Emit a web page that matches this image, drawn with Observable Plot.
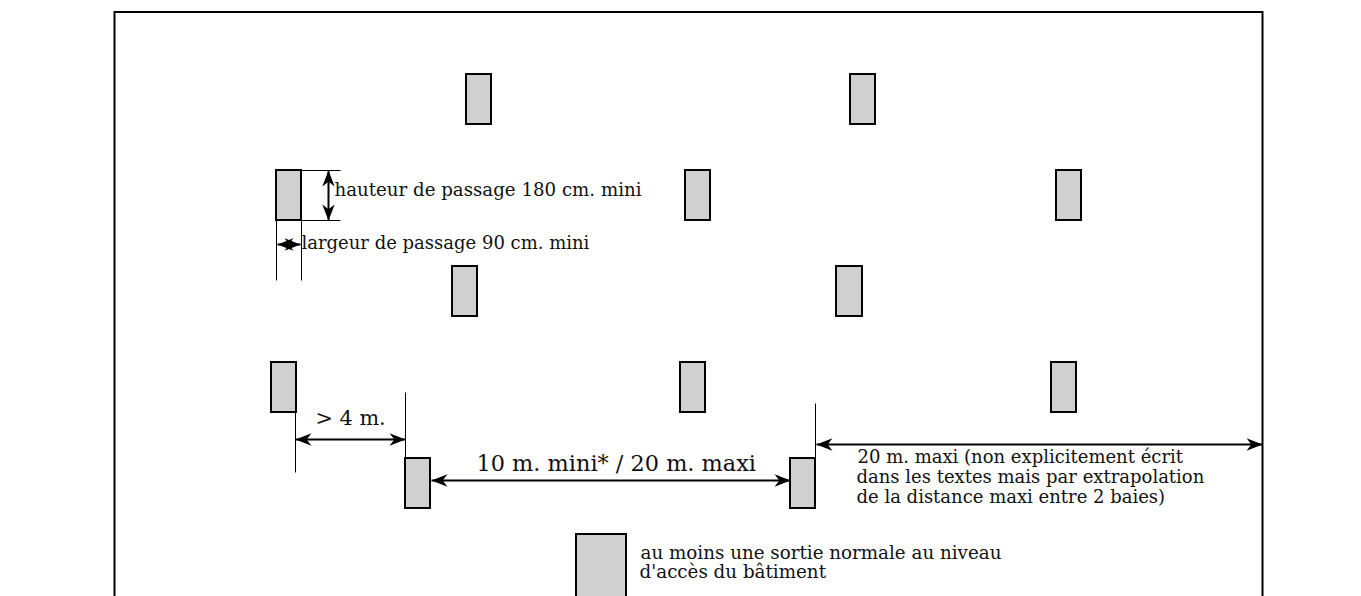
<!DOCTYPE html>
<html><head><meta charset="utf-8">
<script src="https://cdn.jsdelivr.net/npm/d3@7"></script>
<script src="https://cdn.jsdelivr.net/npm/@observablehq/plot@0.6"></script>
<style>html,body{margin:0;padding:0;background:#fff;overflow:hidden}svg{display:block;overflow:hidden}</style>
</head><body><div id="c"></div>
<script>
// door rectangles [left, top, right, bottom]
const doors = [
  [466,74,491,124],[850,74,875,124],
  [276,170,301,220],[685,170,710,220],[1056,170,1081,220],
  [452,266,477,316],[836,266,862,316],
  [271,362,296,412],[680,362,705,412],[1051,362,1076,412],
  [405,458,430,508],[790,458,815,508]
];
const legendDoor = [[576,534,626,610]];
const frame = [[114.5,12,1262.5,620]];
// thin dimension lines [x1,y1,x2,y2]
const guides = [
  [301,170,340,170],[301,220,340,220],
  [276,220,276,280],[301,220,301,280],
  [295,412,295,472],[405,392,405,458],[815,403,815,458]
];
// double arrows [x1,y1,x2,y2]
const arrows = [
  [328,170,328,220],[277,244,300,244],
  [295,439,405,439],[431,480,790,480],[816,444,1262,444]
];
const labels = [
  ["hauteur de passage 180 cm. mini",334,190,18.2],
  ["largeur de passage 90 cm. mini",301,243,18],
  ["> 4 m.",315,418,20.8],
  ["10 m. mini* / 20 m. maxi",476,463,22.4],
  ["20 m. maxi (non explicitement écrit",857,457,18],
  ["dans les textes mais par extrapolation",856,477,18],
  ["de la distance maxi entre 2 baies)",856,497,18],
  ["au moins une sortie normale au niveau",640,553,18.3],
  ["d'accès du bâtiment",639,572,18.3]
];
const stealth = {draw(ctx, size){
  const s = Math.sqrt(size);
  ctx.moveTo(0,0); ctx.lineTo(-6.2,s); ctx.lineTo(0,s*0.7); ctx.lineTo(6.2,s);
  ctx.closePath();
}};
const heads = arrows.flatMap(([a,b,c,d])=>{
  const ang = Math.atan2(d-b,c-a)*180/Math.PI;
  return [{x:a,y:b,r:ang-90},{x:c,y:d,r:ang+90}];
});
const plot = Plot.plot({
  width:1361,height:596,margin:0,
  x:{domain:[0,1361],range:[0,1361],axis:null},
  y:{domain:[0,596],range:[0,596],axis:null},
  marks:[
    Plot.rect(frame,{x1:d=>d[0],y1:d=>d[1],x2:d=>d[2],y2:d=>d[3],fill:"none",stroke:"#000",strokeWidth:2}),
    Plot.link(guides,{x1:d=>d[0],y1:d=>d[1],x2:d=>d[2],y2:d=>d[3],stroke:"#000",strokeWidth:1}),
    Plot.rect(doors,{x1:d=>d[0],y1:d=>d[1],x2:d=>d[2],y2:d=>d[3],fill:"#d0d0d0",stroke:"#000",strokeWidth:2}),
    Plot.rect(legendDoor,{x1:d=>d[0],y1:d=>d[1],x2:d=>d[2],y2:d=>d[3],fill:"#d0d0d0",stroke:"#000",strokeWidth:2}),
    Plot.link(arrows,{x1:d=>d[0],y1:d=>d[1],x2:d=>d[2],y2:d=>d[3],stroke:"#000",strokeWidth:2}),
    Plot.dot(heads,{x:"x",y:"y",rotate:"r",symbol:()=>stealth,r:9,fill:"#000",stroke:"none"}),
    Plot.text(labels,{text:d=>d[0],x:d=>d[1],y:d=>d[2],fontSize:d=>d[3],textAnchor:"start",lineAnchor:"middle",fill:"#111",fontFamily:"DejaVu Serif"})
  ]
});
document.getElementById("c").append(plot);
</script></body></html>
